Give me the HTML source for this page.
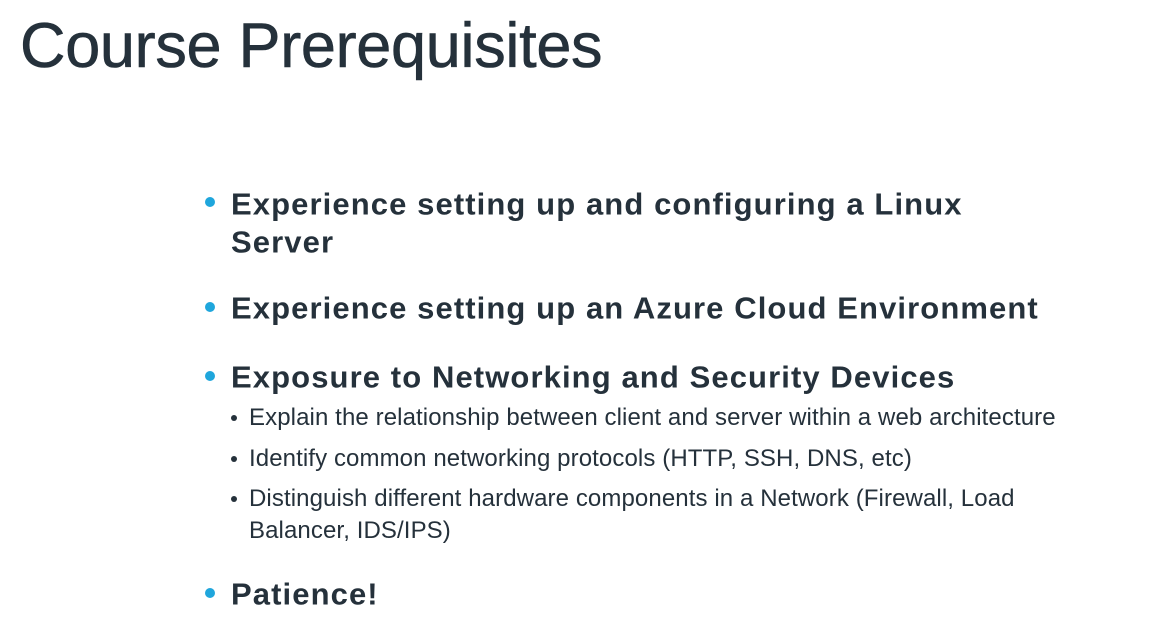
<!DOCTYPE html>
<html><head><meta charset="utf-8"><style>
body{margin:0;width:1160px;height:642px;background:#fff;overflow:hidden;position:relative;font-family:"Liberation Sans",sans-serif;color:#25313b}
.t{position:absolute;white-space:nowrap;line-height:1}
.h{left:20px;top:15px;font-size:63px;letter-spacing:-0.3px;-webkit-text-stroke:0.6px #25313b}
.m{left:231px;font-size:31px;font-weight:bold;letter-spacing:1.1px;transform:translateY(-50%)}
.s{left:249px;font-size:24px;letter-spacing:0.1px;transform:translateY(-50%)}
.d{position:absolute;width:10px;height:10px;border-radius:50%;background:#1fa6dc;left:205px;transform:translateY(-50%)}
.sd{position:absolute;width:6px;height:6px;border-radius:50%;background:#25313b;left:231px;transform:translateY(-50%)}
</style></head><body>
<div class="t h">Course Prerequisites</div>
<div class="d" style="top:202px"></div>
<div class="t m" style="top:204px">Experience setting up and configuring a Linux</div>
<div class="t m" style="top:242px">Server</div>
<div class="d" style="top:307px"></div>
<div class="t m" style="top:308px">Experience setting up an Azure Cloud Environment</div>
<div class="d" style="top:376px"></div>
<div class="t m" style="top:377px">Exposure to Networking and Security Devices</div>
<div class="sd" style="top:418px"></div>
<div class="t s" style="top:418px">Explain the relationship between client and server within a web architecture</div>
<div class="sd" style="top:459px"></div>
<div class="t s" style="top:459px">Identify common networking protocols (HTTP, SSH, DNS, etc)</div>
<div class="sd" style="top:499px"></div>
<div class="t s" style="top:499px">Distinguish different hardware components in a Network (Firewall, Load</div>
<div class="t s" style="top:531px">Balancer, IDS/IPS)</div>
<div class="d" style="top:593px"></div>
<div class="t m" style="top:594px">Patience!</div>
</body></html>
